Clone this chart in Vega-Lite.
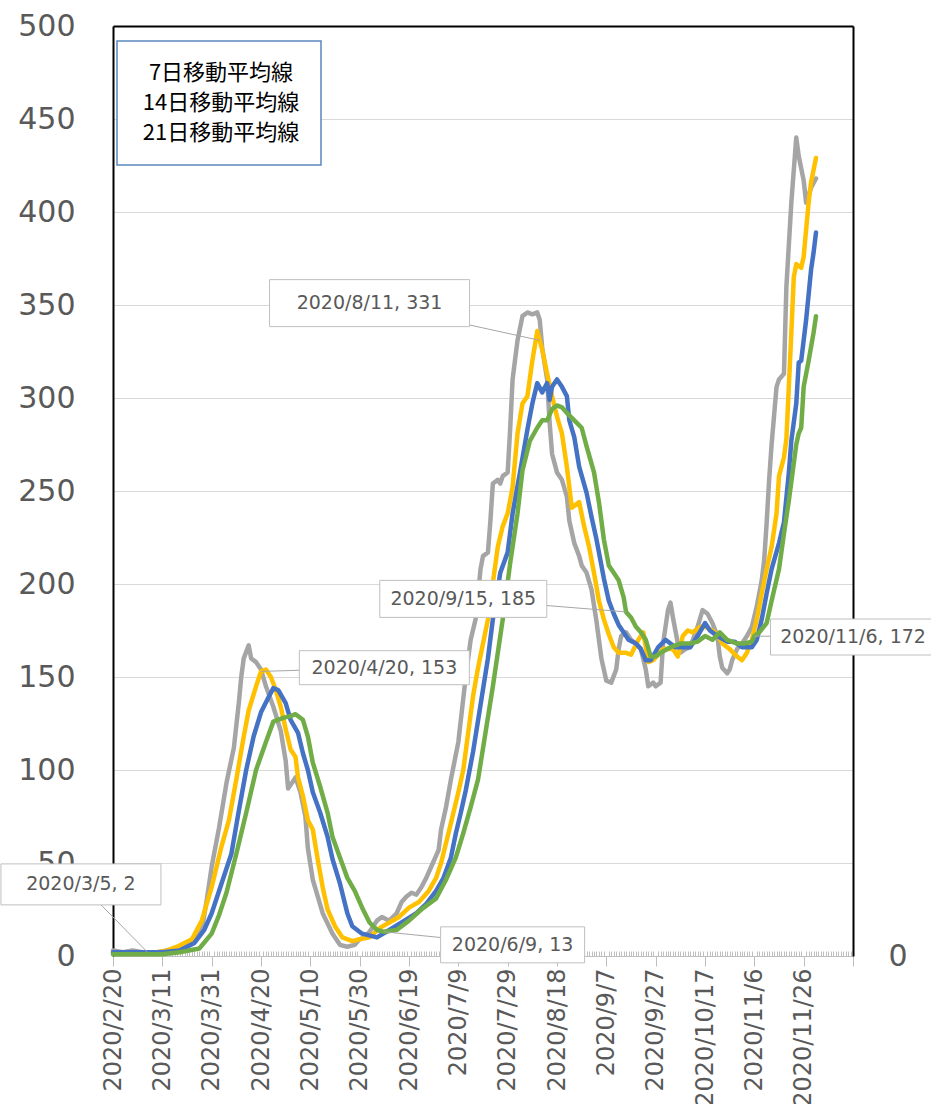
{
  "$schema": "https://vega.github.io/schema/vega-lite/v6.json",
  "width": 740,
  "height": 930,
  "autosize": {"type": "none"},
  "padding": {"left": 113, "top": 26, "right": 78, "bottom": 148},
  "background": "white",
  "config": {"view": {"stroke": null}, "font": "DejaVu Sans", "legend": {"strokeWidth": 1.5}},
  "datasets": {
    "raw": [
      {"date":"2020-02-20","value":3},{"date":"2020-02-24","value":2},{"date":"2020-02-28","value":3},{"date":"2020-03-03","value":2},
      {"date":"2020-03-05","value":2},{"date":"2020-03-09","value":2},{"date":"2020-03-13","value":3},{"date":"2020-03-16","value":4},
      {"date":"2020-03-19","value":6},{"date":"2020-03-22","value":8},{"date":"2020-03-25","value":11},{"date":"2020-03-27","value":14},
      {"date":"2020-03-29","value":30},{"date":"2020-03-31","value":48},{"date":"2020-04-01","value":55},{"date":"2020-04-03","value":69},
      {"date":"2020-04-06","value":93},{"date":"2020-04-09","value":112},{"date":"2020-04-11","value":136},{"date":"2020-04-12","value":150},
      {"date":"2020-04-13","value":160},{"date":"2020-04-15","value":167},{"date":"2020-04-16","value":160},{"date":"2020-04-18","value":158},
      {"date":"2020-04-20","value":154},{"date":"2020-04-22","value":145},{"date":"2020-04-25","value":134},{"date":"2020-04-28","value":121},
      {"date":"2020-04-30","value":105},{"date":"2020-05-01","value":90},{"date":"2020-05-02","value":92},{"date":"2020-05-04","value":96},
      {"date":"2020-05-06","value":88},{"date":"2020-05-08","value":75},{"date":"2020-05-09","value":58},{"date":"2020-05-11","value":41},
      {"date":"2020-05-13","value":32},{"date":"2020-05-15","value":23},{"date":"2020-05-19","value":12},{"date":"2020-05-22","value":6},
      {"date":"2020-05-25","value":5},{"date":"2020-05-28","value":6},{"date":"2020-05-30","value":9},{"date":"2020-06-01","value":10},
      {"date":"2020-06-03","value":13},{"date":"2020-06-06","value":19},{"date":"2020-06-08","value":21},{"date":"2020-06-11","value":19},
      {"date":"2020-06-14","value":23},{"date":"2020-06-16","value":29},{"date":"2020-06-18","value":32},{"date":"2020-06-20","value":34},
      {"date":"2020-06-22","value":33},{"date":"2020-06-24","value":37},{"date":"2020-06-26","value":42},{"date":"2020-06-28","value":48},
      {"date":"2020-06-30","value":54},{"date":"2020-07-01","value":57},{"date":"2020-07-02","value":68},{"date":"2020-07-04","value":80},
      {"date":"2020-07-06","value":95},{"date":"2020-07-09","value":115},{"date":"2020-07-12","value":150},{"date":"2020-07-14","value":170},
      {"date":"2020-07-16","value":181},{"date":"2020-07-18","value":208},{"date":"2020-07-19","value":215},{"date":"2020-07-21","value":217},
      {"date":"2020-07-22","value":234},{"date":"2020-07-23","value":254},{"date":"2020-07-25","value":256},{"date":"2020-07-26","value":254},
      {"date":"2020-07-27","value":258},{"date":"2020-07-29","value":260},{"date":"2020-07-30","value":283},{"date":"2020-07-31","value":310},
      {"date":"2020-08-02","value":331},{"date":"2020-08-04","value":344},{"date":"2020-08-06","value":346},{"date":"2020-08-08","value":345},
      {"date":"2020-08-10","value":346},{"date":"2020-08-11","value":342},{"date":"2020-08-12","value":327},{"date":"2020-08-14","value":310},
      {"date":"2020-08-15","value":287},{"date":"2020-08-16","value":270},{"date":"2020-08-18","value":260},{"date":"2020-08-20","value":256},
      {"date":"2020-08-22","value":247},{"date":"2020-08-23","value":234},{"date":"2020-08-25","value":222},{"date":"2020-08-27","value":215},
      {"date":"2020-08-28","value":210},{"date":"2020-08-30","value":206},{"date":"2020-09-01","value":197},{"date":"2020-09-03","value":180},
      {"date":"2020-09-05","value":160},{"date":"2020-09-07","value":148},{"date":"2020-09-09","value":147},{"date":"2020-09-11","value":154},
      {"date":"2020-09-12","value":165},{"date":"2020-09-13","value":172},{"date":"2020-09-15","value":174},{"date":"2020-09-17","value":170},
      {"date":"2020-09-19","value":168},{"date":"2020-09-21","value":165},{"date":"2020-09-23","value":154},{"date":"2020-09-24","value":145},
      {"date":"2020-09-26","value":147},{"date":"2020-09-27","value":145},{"date":"2020-09-29","value":147},{"date":"2020-09-30","value":168},
      {"date":"2020-10-02","value":186},{"date":"2020-10-03","value":190},{"date":"2020-10-04","value":182},{"date":"2020-10-06","value":168},
      {"date":"2020-10-07","value":163},{"date":"2020-10-09","value":165},{"date":"2020-10-11","value":166},{"date":"2020-10-14","value":177},
      {"date":"2020-10-16","value":186},{"date":"2020-10-18","value":184},{"date":"2020-10-20","value":179},{"date":"2020-10-22","value":172},
      {"date":"2020-10-23","value":161},{"date":"2020-10-24","value":155},{"date":"2020-10-26","value":152},{"date":"2020-10-27","value":154},
      {"date":"2020-10-28","value":159},{"date":"2020-10-30","value":165},{"date":"2020-11-01","value":168},{"date":"2020-11-03","value":172},
      {"date":"2020-11-05","value":177},{"date":"2020-11-07","value":188},{"date":"2020-11-09","value":202},{"date":"2020-11-10","value":213},
      {"date":"2020-11-11","value":233},{"date":"2020-11-12","value":256},{"date":"2020-11-13","value":275},{"date":"2020-11-15","value":306},
      {"date":"2020-11-16","value":310},{"date":"2020-11-18","value":313},{"date":"2020-11-19","value":360},{"date":"2020-11-21","value":405},
      {"date":"2020-11-23","value":440},{"date":"2020-11-24","value":430},{"date":"2020-11-26","value":417},{"date":"2020-11-27","value":405},
      {"date":"2020-11-29","value":413},{"date":"2020-12-01","value":418}
    ],
    "ma7": [
      {"date":"2020-02-20","value":2},{"date":"2020-02-25","value":2},{"date":"2020-03-01","value":1},{"date":"2020-03-05","value":2},
      {"date":"2020-03-09","value":2},{"date":"2020-03-13","value":3},{"date":"2020-03-17","value":5},{"date":"2020-03-20","value":7},
      {"date":"2020-03-23","value":9},{"date":"2020-03-27","value":19},{"date":"2020-03-31","value":37},{"date":"2020-04-04","value":59},
      {"date":"2020-04-07","value":73},{"date":"2020-04-10","value":95},{"date":"2020-04-13","value":118},{"date":"2020-04-15","value":132},
      {"date":"2020-04-18","value":145},{"date":"2020-04-20","value":153},{"date":"2020-04-22","value":154},{"date":"2020-04-24","value":150},
      {"date":"2020-04-26","value":143},{"date":"2020-04-28","value":134},{"date":"2020-04-30","value":122},{"date":"2020-05-02","value":111},
      {"date":"2020-05-04","value":107},{"date":"2020-05-05","value":96},{"date":"2020-05-07","value":86},{"date":"2020-05-09","value":73},
      {"date":"2020-05-11","value":68},{"date":"2020-05-13","value":52},{"date":"2020-05-15","value":37},{"date":"2020-05-17","value":25},
      {"date":"2020-05-20","value":16},{"date":"2020-05-23","value":10},{"date":"2020-05-27","value":8},{"date":"2020-05-30","value":9},
      {"date":"2020-06-03","value":10},{"date":"2020-06-07","value":15},{"date":"2020-06-11","value":18},{"date":"2020-06-15","value":21},
      {"date":"2020-06-19","value":26},{"date":"2020-06-23","value":29},{"date":"2020-06-27","value":35},{"date":"2020-06-30","value":42},
      {"date":"2020-07-02","value":50},{"date":"2020-07-05","value":66},{"date":"2020-07-07","value":77},{"date":"2020-07-09","value":88},
      {"date":"2020-07-11","value":100},{"date":"2020-07-13","value":120},{"date":"2020-07-15","value":140},{"date":"2020-07-17","value":155},
      {"date":"2020-07-19","value":168},{"date":"2020-07-21","value":181},{"date":"2020-07-25","value":220},{"date":"2020-07-27","value":231},
      {"date":"2020-07-29","value":238},{"date":"2020-07-31","value":252},{"date":"2020-08-02","value":281},{"date":"2020-08-04","value":297},
      {"date":"2020-08-06","value":301},{"date":"2020-08-08","value":320},{"date":"2020-08-10","value":336},{"date":"2020-08-11","value":331},
      {"date":"2020-08-12","value":326},{"date":"2020-08-14","value":313},{"date":"2020-08-16","value":301},{"date":"2020-08-18","value":290},
      {"date":"2020-08-20","value":281},{"date":"2020-08-22","value":263},{"date":"2020-08-24","value":241},{"date":"2020-08-27","value":244},
      {"date":"2020-08-29","value":231},{"date":"2020-08-31","value":220},{"date":"2020-09-02","value":206},{"date":"2020-09-04","value":191},
      {"date":"2020-09-06","value":181},{"date":"2020-09-08","value":173},{"date":"2020-09-10","value":166},{"date":"2020-09-12","value":163},
      {"date":"2020-09-15","value":163},{"date":"2020-09-17","value":162},{"date":"2020-09-20","value":170},{"date":"2020-09-22","value":174},
      {"date":"2020-09-24","value":158},{"date":"2020-09-26","value":159},{"date":"2020-09-30","value":165},{"date":"2020-10-04","value":165},
      {"date":"2020-10-06","value":161},{"date":"2020-10-08","value":172},{"date":"2020-10-10","value":175},{"date":"2020-10-12","value":174},
      {"date":"2020-10-15","value":177},{"date":"2020-10-17","value":177},{"date":"2020-10-20","value":175},{"date":"2020-10-22","value":173},
      {"date":"2020-10-24","value":168},{"date":"2020-10-27","value":165},{"date":"2020-10-30","value":161},{"date":"2020-11-01","value":159},
      {"date":"2020-11-03","value":163},{"date":"2020-11-05","value":170},{"date":"2020-11-07","value":181},{"date":"2020-11-09","value":195},
      {"date":"2020-11-11","value":208},{"date":"2020-11-13","value":220},{"date":"2020-11-15","value":238},{"date":"2020-11-16","value":258},
      {"date":"2020-11-18","value":268},{"date":"2020-11-19","value":278},{"date":"2020-11-21","value":335},{"date":"2020-11-22","value":365},
      {"date":"2020-11-23","value":372},{"date":"2020-11-25","value":370},{"date":"2020-11-26","value":376},{"date":"2020-11-28","value":405},
      {"date":"2020-11-29","value":416},{"date":"2020-12-01","value":429}
    ],
    "ma14": [
      {"date":"2020-02-20","value":2},{"date":"2020-03-01","value":2},{"date":"2020-03-11","value":2},{"date":"2020-03-18","value":3},
      {"date":"2020-03-24","value":7},{"date":"2020-03-28","value":14},{"date":"2020-03-31","value":23},{"date":"2020-04-04","value":39},
      {"date":"2020-04-08","value":55},{"date":"2020-04-11","value":78},{"date":"2020-04-14","value":100},{"date":"2020-04-17","value":118},
      {"date":"2020-04-20","value":131},{"date":"2020-04-23","value":139},{"date":"2020-04-25","value":144},{"date":"2020-04-27","value":143},
      {"date":"2020-04-30","value":136},{"date":"2020-05-02","value":127},{"date":"2020-05-05","value":120},{"date":"2020-05-07","value":109},
      {"date":"2020-05-09","value":100},{"date":"2020-05-11","value":88},{"date":"2020-05-14","value":77},{"date":"2020-05-17","value":64},
      {"date":"2020-05-19","value":52},{"date":"2020-05-22","value":39},{"date":"2020-05-25","value":23},{"date":"2020-05-27","value":16},
      {"date":"2020-05-31","value":12},{"date":"2020-06-06","value":10},{"date":"2020-06-11","value":14},{"date":"2020-06-16","value":18},
      {"date":"2020-06-22","value":23},{"date":"2020-06-26","value":28},{"date":"2020-06-30","value":35},{"date":"2020-07-03","value":42},
      {"date":"2020-07-06","value":53},{"date":"2020-07-08","value":66},{"date":"2020-07-10","value":77},{"date":"2020-07-12","value":89},
      {"date":"2020-07-15","value":110},{"date":"2020-07-18","value":135},{"date":"2020-07-21","value":160},{"date":"2020-07-23","value":181},
      {"date":"2020-07-26","value":206},{"date":"2020-07-29","value":217},{"date":"2020-07-31","value":238},{"date":"2020-08-03","value":260},
      {"date":"2020-08-06","value":283},{"date":"2020-08-08","value":297},{"date":"2020-08-10","value":308},{"date":"2020-08-12","value":303},
      {"date":"2020-08-14","value":308},{"date":"2020-08-15","value":299},{"date":"2020-08-16","value":306},{"date":"2020-08-18","value":310},
      {"date":"2020-08-20","value":306},{"date":"2020-08-22","value":301},{"date":"2020-08-23","value":288},{"date":"2020-08-25","value":279},
      {"date":"2020-08-27","value":263},{"date":"2020-08-30","value":249},{"date":"2020-09-01","value":236},{"date":"2020-09-03","value":224},
      {"date":"2020-09-06","value":203},{"date":"2020-09-08","value":191},{"date":"2020-09-10","value":184},{"date":"2020-09-12","value":178},
      {"date":"2020-09-14","value":174},{"date":"2020-09-16","value":170},{"date":"2020-09-19","value":168},{"date":"2020-09-21","value":165},
      {"date":"2020-09-23","value":159},{"date":"2020-09-25","value":159},{"date":"2020-09-28","value":166},{"date":"2020-10-01","value":170},
      {"date":"2020-10-05","value":166},{"date":"2020-10-08","value":166},{"date":"2020-10-11","value":166},{"date":"2020-10-14","value":172},
      {"date":"2020-10-17","value":179},{"date":"2020-10-19","value":175},{"date":"2020-10-22","value":172},{"date":"2020-10-26","value":169},
      {"date":"2020-10-29","value":169},{"date":"2020-11-01","value":166},{"date":"2020-11-05","value":166},{"date":"2020-11-07","value":170},
      {"date":"2020-11-09","value":181},{"date":"2020-11-11","value":195},{"date":"2020-11-13","value":208},{"date":"2020-11-16","value":222},
      {"date":"2020-11-18","value":233},{"date":"2020-11-20","value":260},{"date":"2020-11-21","value":277},{"date":"2020-11-23","value":297},
      {"date":"2020-11-24","value":319},{"date":"2020-11-25","value":320},{"date":"2020-11-27","value":342},{"date":"2020-11-29","value":369},
      {"date":"2020-11-30","value":378},{"date":"2020-12-01","value":389}
    ],
    "ma21": [
      {"date":"2020-02-20","value":1},{"date":"2020-03-01","value":1},{"date":"2020-03-11","value":1},{"date":"2020-03-18","value":2},
      {"date":"2020-03-26","value":4},{"date":"2020-03-31","value":12},{"date":"2020-04-03","value":22},{"date":"2020-04-06","value":34},
      {"date":"2020-04-10","value":55},{"date":"2020-04-14","value":77},{"date":"2020-04-18","value":100},{"date":"2020-04-22","value":115},
      {"date":"2020-04-25","value":126},{"date":"2020-04-29","value":128},{"date":"2020-05-02","value":129},{"date":"2020-05-04","value":130},
      {"date":"2020-05-07","value":127},{"date":"2020-05-09","value":118},{"date":"2020-05-11","value":104},{"date":"2020-05-14","value":91},
      {"date":"2020-05-17","value":77},{"date":"2020-05-19","value":64},{"date":"2020-05-22","value":53},{"date":"2020-05-25","value":42},
      {"date":"2020-05-28","value":35},{"date":"2020-05-31","value":26},{"date":"2020-06-03","value":18},{"date":"2020-06-06","value":14},
      {"date":"2020-06-09","value":13},{"date":"2020-06-14","value":14},{"date":"2020-06-19","value":19},{"date":"2020-06-24","value":25},
      {"date":"2020-06-30","value":31},{"date":"2020-07-04","value":41},{"date":"2020-07-08","value":53},{"date":"2020-07-11","value":66},
      {"date":"2020-07-14","value":80},{"date":"2020-07-17","value":95},{"date":"2020-07-20","value":120},{"date":"2020-07-23","value":145},
      {"date":"2020-07-25","value":163},{"date":"2020-07-27","value":181},{"date":"2020-07-30","value":211},{"date":"2020-08-02","value":238},
      {"date":"2020-08-04","value":261},{"date":"2020-08-07","value":277},{"date":"2020-08-10","value":284},{"date":"2020-08-12","value":288},
      {"date":"2020-08-14","value":288},{"date":"2020-08-16","value":294},{"date":"2020-08-18","value":296},{"date":"2020-08-20","value":295},
      {"date":"2020-08-22","value":292},{"date":"2020-08-25","value":288},{"date":"2020-08-28","value":284},{"date":"2020-08-30","value":274},
      {"date":"2020-09-02","value":260},{"date":"2020-09-04","value":244},{"date":"2020-09-06","value":224},{"date":"2020-09-08","value":210},
      {"date":"2020-09-10","value":206},{"date":"2020-09-12","value":202},{"date":"2020-09-14","value":193},{"date":"2020-09-15","value":185},
      {"date":"2020-09-17","value":182},{"date":"2020-09-19","value":177},{"date":"2020-09-21","value":174},{"date":"2020-09-23","value":170},
      {"date":"2020-09-25","value":161},{"date":"2020-09-27","value":161},{"date":"2020-09-29","value":163},{"date":"2020-10-03","value":166},
      {"date":"2020-10-07","value":168},{"date":"2020-10-11","value":168},{"date":"2020-10-14","value":169},{"date":"2020-10-17","value":172},
      {"date":"2020-10-20","value":170},{"date":"2020-10-23","value":174},{"date":"2020-10-26","value":170},{"date":"2020-10-30","value":168},
      {"date":"2020-11-02","value":168},{"date":"2020-11-05","value":169},{"date":"2020-11-06","value":172},{"date":"2020-11-08","value":174},
      {"date":"2020-11-11","value":179},{"date":"2020-11-13","value":191},{"date":"2020-11-16","value":208},{"date":"2020-11-18","value":227},
      {"date":"2020-11-20","value":245},{"date":"2020-11-23","value":275},{"date":"2020-11-24","value":281},{"date":"2020-11-25","value":284},
      {"date":"2020-11-26","value":306},{"date":"2020-11-28","value":320},{"date":"2020-11-30","value":335},{"date":"2020-12-01","value":344}
    ],
    "notes": [
      {"label":"2020/3/5, 2","date":"2020-03-05","value":2,"boxDate":"2020-02-07","boxValue":38.5},
      {"label":"2020/4/20, 153","date":"2020-04-20","value":153,"boxDate":"2020-06-09","boxValue":155},
      {"label":"2020/8/11, 331","date":"2020-08-11","value":331,"boxDate":"2020-06-03","boxValue":351},
      {"label":"2020/6/9, 13","date":"2020-06-09","value":13,"boxDate":"2020-07-31","boxValue":6},
      {"label":"2020/9/15, 185","date":"2020-09-15","value":185,"boxDate":"2020-07-11","boxValue":192},
      {"label":"2020/11/6, 172","date":"2020-11-06","value":172,"boxDate":"2020-12-16","boxValue":171.5}
    ]
  },
  "layer": [
    {
      "layer": [
        {
          "data": {"name": "raw"},
          "mark": {"type": "line", "color": "#a5a5a5", "strokeWidth": 4.5, "strokeJoin": "round", "strokeCap": "round"},
          "encoding": {
            "x": {
              "field": "date", "type": "temporal",
              "scale": {"type": "utc", "domain": [{"year": 2020, "month": 2, "date": 20, "utc": true}, {"year": 2020, "month": 12, "date": 16, "utc": true}]},
              "axis": {
                "orient": "bottom", "title": null, "grid": false,
                "domainColor": "#bfbfbf", "domainWidth": 1,
                "tickColor": "#bfbfbf", "tickWidth": 1,
                "tickCount": {"interval": "day", "step": 1},
                "tickSize": {"condition": {"test": "round((datum.value - utc(2020,1,20)) / 86400000) % 20 === 0", "value": 10}, "value": -5},
                "labelExpr": "(round((datum.value - utc(2020,1,20)) / 86400000) % 20 === 0 && datum.value < utc(2020,11,10)) ? utcFormat(datum.value, '%Y/%-m/%-d') : ''",
                "labelAngle": 270, "labelFontSize": 24, "labelColor": "#595959", "labelPadding": 2,
                "labelOverlap": false, "labelFlush": false, "labelBound": false
              }
            },
            "y": {
              "field": "value", "type": "quantitative",
              "scale": {"domain": [0, 500], "nice": false},
              "axis": {
                "orient": "left", "title": null,
                "values": [0, 50, 100, 150, 200, 250, 300, 350, 400, 450, 500],
                "ticks": false, "tickSize": 0,
                "domainColor": "#000000", "domainWidth": 2,
                "grid": true, "gridColor": "#d9d9d9", "gridWidth": 1,
                "labelFontSize": 30, "labelColor": "#595959", "labelPadding": 38
              }
            }
          }
        },
        {
          "data": {"name": "ma7"},
          "mark": {"type": "line", "strokeWidth": 4.5, "strokeJoin": "round", "strokeCap": "round"},
          "encoding": {
            "x": {"field": "date", "type": "temporal", "scale": {"type": "utc"}},
            "y": {"field": "value", "type": "quantitative"},
            "color": {
              "datum": "7日移動平均線", "type": "nominal",
              "scale": {"domain": ["7日移動平均線", "14日移動平均線", "21日移動平均線"], "range": ["#ffc000", "#4472c4", "#70ad47"]},
              "legend": {
                "orient": "none", "legendX": 4, "legendY": 15, "title": null,
                "fillColor": "white", "strokeColor": "#5b86bd", "padding": 21,
                "labelFont": "Noto Sans CJK JP", "labelFontSize": 22, "labelColor": "#000000",
                "labelAlign": "center", "labelOffset": 61, "rowPadding": 8,
                "symbolSize": 0, "symbolStrokeWidth": 0, "symbolOpacity": 0
              }
            }
          }
        },
        {
          "data": {"name": "ma14"},
          "mark": {"type": "line", "strokeWidth": 4.5, "strokeJoin": "round", "strokeCap": "round"},
          "encoding": {
            "x": {"field": "date", "type": "temporal", "scale": {"type": "utc"}},
            "y": {"field": "value", "type": "quantitative"},
            "color": {"datum": "14日移動平均線", "type": "nominal"}
          }
        },
        {
          "data": {"name": "ma21"},
          "mark": {"type": "line", "strokeWidth": 4.5, "strokeJoin": "round", "strokeCap": "round"},
          "encoding": {
            "x": {"field": "date", "type": "temporal", "scale": {"type": "utc"}},
            "y": {"field": "value", "type": "quantitative"},
            "color": {"datum": "21日移動平均線", "type": "nominal"}
          }
        },
        {
          "data": {"name": "notes"},
          "mark": {"type": "rule", "color": "#a6a6a6", "strokeWidth": 1},
          "encoding": {
            "x": {"field": "date", "type": "temporal", "scale": {"type": "utc"}},
            "y": {"field": "value", "type": "quantitative"},
            "x2": {"field": "boxDate"},
            "y2": {"field": "boxValue"}
          }
        },
        {
          "data": {"name": "notes"},
          "transform": [{"filter": "datum.label === '2020/3/5, 2'"}],
          "mark": {"type": "rect", "width": 160, "height": 41, "fill": "white", "stroke": "#bfbfbf", "strokeWidth": 1},
          "encoding": {"x": {"field": "boxDate", "type": "temporal", "scale": {"type": "utc"}}, "y": {"field": "boxValue", "type": "quantitative"}}
        },
        {
          "data": {"name": "notes"},
          "transform": [{"filter": "datum.label === '2020/4/20, 153'"}],
          "mark": {"type": "rect", "width": 170, "height": 34, "fill": "white", "stroke": "#bfbfbf", "strokeWidth": 1},
          "encoding": {"x": {"field": "boxDate", "type": "temporal", "scale": {"type": "utc"}}, "y": {"field": "boxValue", "type": "quantitative"}}
        },
        {
          "data": {"name": "notes"},
          "transform": [{"filter": "datum.label === '2020/8/11, 331'"}],
          "mark": {"type": "rect", "width": 200, "height": 47, "fill": "white", "stroke": "#bfbfbf", "strokeWidth": 1},
          "encoding": {"x": {"field": "boxDate", "type": "temporal", "scale": {"type": "utc"}}, "y": {"field": "boxValue", "type": "quantitative"}}
        },
        {
          "data": {"name": "notes"},
          "transform": [{"filter": "datum.label === '2020/6/9, 13'"}],
          "mark": {"type": "rect", "width": 144, "height": 36, "fill": "white", "stroke": "#bfbfbf", "strokeWidth": 1},
          "encoding": {"x": {"field": "boxDate", "type": "temporal", "scale": {"type": "utc"}}, "y": {"field": "boxValue", "type": "quantitative"}}
        },
        {
          "data": {"name": "notes"},
          "transform": [{"filter": "datum.label === '2020/9/15, 185'"}],
          "mark": {"type": "rect", "width": 167, "height": 37, "fill": "white", "stroke": "#bfbfbf", "strokeWidth": 1},
          "encoding": {"x": {"field": "boxDate", "type": "temporal", "scale": {"type": "utc"}}, "y": {"field": "boxValue", "type": "quantitative"}}
        },
        {
          "data": {"name": "notes"},
          "transform": [{"filter": "datum.label === '2020/11/6, 172'"}],
          "mark": {"type": "rect", "width": 165, "height": 36, "fill": "white", "stroke": "#bfbfbf", "strokeWidth": 1},
          "encoding": {"x": {"field": "boxDate", "type": "temporal", "scale": {"type": "utc"}}, "y": {"field": "boxValue", "type": "quantitative"}}
        },
        {
          "data": {"name": "notes"},
          "mark": {"type": "text", "fontSize": 19, "color": "#595959", "align": "center", "baseline": "middle"},
          "encoding": {
            "x": {"field": "boxDate", "type": "temporal", "scale": {"type": "utc"}},
            "y": {"field": "boxValue", "type": "quantitative"},
            "text": {"field": "label"}
          }
        }
      ]
    },
    {
      "data": {"name": "raw"},
      "mark": {"type": "point", "opacity": 0},
      "encoding": {
        "x": {
          "field": "date", "type": "temporal",
          "scale": {"type": "utc", "domain": [{"year": 2020, "month": 2, "date": 20, "utc": true}, {"year": 2020, "month": 12, "date": 16, "utc": true}]},
          "axis": {"orient": "top", "title": null, "labels": false, "ticks": false, "grid": false, "domainColor": "#000000", "domainWidth": 2}
        },
        "y": {
          "field": "value", "type": "quantitative",
          "scale": {"domain": [0, 500], "nice": false},
          "axis": {"orient": "right", "title": null, "values": [0], "ticks": false, "tickSize": 0, "grid": false, "domainColor": "#000000", "domainWidth": 2, "labelPadding": 35, "labelFontSize": 30, "labelColor": "#595959"}
        }
      }
    }
  ],
  "resolve": {"axis": {"x": "independent", "y": "independent"}}
}
